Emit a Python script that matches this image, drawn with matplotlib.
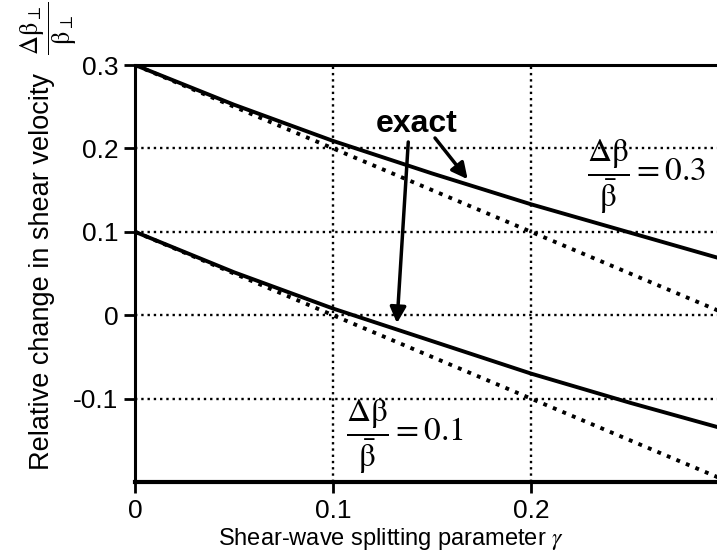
import matplotlib
matplotlib.use("Agg")
from matplotlib import pyplot as plt

# splitting parameter gamma
gamma = [0.0, 0.05, 0.1, 0.15, 0.2, 0.25, 0.3]

# exact curves
exact_03 = [0.3, 0.2524, 0.209, 0.170, 0.133, 0.099, 0.065]
exact_01 = [0.1, 0.0515, 0.008, -0.031, -0.070, -0.105, -0.138]

# first-order (dotted) approximations
approx_gamma = [0.0, 0.3]
approx_03 = [0.3, 0.0]
approx_01 = [0.1, -0.2]

xticks = [0, 0.1, 0.2]
xticklabels = ["0", "0.1", "0.2"]
yticks = [-0.1, 0, 0.1, 0.2, 0.3]
yticklabels = ["-0.1", "0", "0.1", "0.2", "0.3"]

plt.rcParams["font.family"] = ["Liberation Sans", "DejaVu Sans"]
plt.rcParams["mathtext.fontset"] = "stix"

fig = plt.figure(figsize=(7.17, 5.58), dpi=100)
ax = fig.add_axes([0.1883, 0.1362, 0.8285, 0.7473])

ax.plot(gamma, exact_03, "-", color="k", lw=2.8, solid_capstyle="butt")
ax.plot(gamma, exact_01, "-", color="k", lw=2.8, solid_capstyle="butt")
ax.plot(approx_gamma, approx_03, ":", color="k", lw=2.8)
ax.plot(approx_gamma, approx_01, ":", color="k", lw=2.8)

ax.set_xlim(0, 0.3)
ax.set_ylim(-0.2, 0.3)
ax.set_xticks(xticks)
ax.set_xticklabels(xticklabels)
ax.set_yticks(yticks)
ax.set_yticklabels(yticklabels)
ax.tick_params(direction="out", length=8, width=2, labelsize=19, pad=4)

ax.grid(True, linestyle=":", color="k", lw=1.7)

for side in ["left", "top", "bottom"]:
    ax.spines[side].set_linewidth(2.2)
ax.spines["bottom"].set_linewidth(3)
ax.spines["right"].set_visible(False)

ax.set_xlabel(r"Shear-wave splitting parameter $\gamma$", fontsize=17)
ax.xaxis.set_label_coords(0.43, -0.105)
ax.set_ylabel("Relative change in shear velocity", fontsize=19.5)
ax.yaxis.set_label_coords(-0.135, 0.504)
# the fraction at the top end of the y label
fig.text(0.068, 0.95,
         r"$\dfrac{\Delta\mathrm{\beta}_{\perp}}{\mathrm{\beta}_{\perp}}$",
         fontsize=19, rotation=90, ha="center", va="center")

# annotations
ax.text(0.1424, 0.229, "exact", fontsize=23, fontweight="bold",
        ha="center", va="center")
ax.annotate("", xy=(0.168, 0.163), xytext=(0.1515, 0.2125),
            arrowprops=dict(arrowstyle="-|>", color="k", lw=2.5,
                            mutation_scale=24, shrinkA=0, shrinkB=0))
ax.annotate("", xy=(0.1323, -0.0096), xytext=(0.138, 0.2077),
            arrowprops=dict(arrowstyle="-|>", color="k", lw=2.5,
                            mutation_scale=24, shrinkA=0, shrinkB=0))

ax.text(0.258, 0.1657,
        r"$\dfrac{\Delta\mathrm{\beta}}{\bar{\mathrm{\beta}}}=0.3$",
        fontsize=24, ha="center", va="center")
ax.text(0.136, -0.146,
        r"$\dfrac{\Delta\mathrm{\beta}}{\bar{\mathrm{\beta}}}=0.1$",
        fontsize=24, ha="center", va="center")

fig.savefig("out.png", dpi=100)
